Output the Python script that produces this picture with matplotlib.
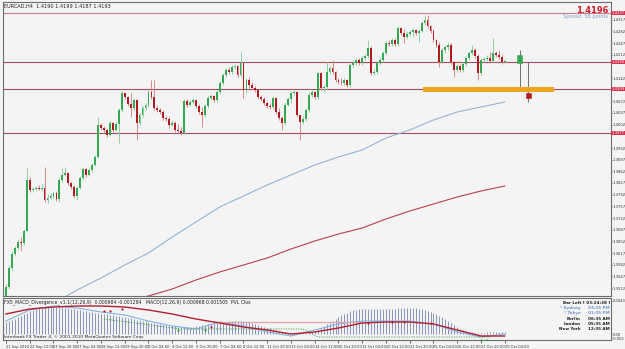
import numpy as np
import matplotlib.pyplot as plt

# EURCAD H4 candles, 21 Sep 2010 .. 29 Oct 2010 04:00
first_open = 1.3488
closes = [1.3515, 1.3572, 1.3614, 1.3632, 1.3650, 1.3647, 1.3683, 1.3836, 1.3806, 1.3809,
          1.3812, 1.3809, 1.3812, 1.3776, 1.3782, 1.3788, 1.3797, 1.3779, 1.3836, 1.3851,
          1.3857, 1.3827, 1.3815, 1.3788, 1.3812, 1.3842, 1.3869, 1.3851, 1.3866, 1.3881,
          1.3905, 1.4001, 1.3992, 1.3986, 1.3971, 1.4007, 1.3986, 1.4004, 1.4046, 1.4097,
          1.4085, 1.4064, 1.4052, 1.4076, 1.4007, 1.4031, 1.4052, 1.4061, 1.4100, 1.4085,
          1.4052, 1.4046, 1.4040, 1.4022, 1.4019, 1.4001, 1.4007, 1.3986, 1.3983, 1.3977,
          1.4073, 1.4061, 1.4070, 1.4076, 1.4058, 1.4040, 1.4031, 1.4058, 1.4082, 1.4088,
          1.4076, 1.4100, 1.4127, 1.4151, 1.4166, 1.4160, 1.4175, 1.4178, 1.4151, 1.4187,
          1.4106, 1.4136, 1.4121, 1.4112, 1.4106, 1.4085, 1.4079, 1.4067, 1.4058, 1.4055,
          1.4082, 1.4040, 1.4022, 1.4007, 1.4061, 1.4079, 1.4097, 1.4100, 1.4031, 1.4010,
          1.4019, 1.4046, 1.4091, 1.4100, 1.4085, 1.4157, 1.4112, 1.4115, 1.4160, 1.4172,
          1.4160, 1.4136, 1.4130, 1.4127, 1.4136, 1.4121, 1.4181, 1.4187, 1.4196, 1.4187,
          1.4202, 1.4208, 1.4232, 1.4157, 1.4160, 1.4187, 1.4196, 1.4217, 1.4247, 1.4244,
          1.4256, 1.4244, 1.4292, 1.4277, 1.4265, 1.4274, 1.4280, 1.4286, 1.4277, 1.4283,
          1.4307, 1.4316, 1.4298, 1.4283, 1.4256, 1.4241, 1.4190, 1.4226, 1.4235, 1.4241,
          1.4190, 1.4166, 1.4178, 1.4166, 1.4184, 1.4202, 1.4217, 1.4226, 1.4208, 1.4157,
          1.4196, 1.4199, 1.4202, 1.4193, 1.4217, 1.4211, 1.4205, 1.4190, 1.4193]
highs = [1.3524, 1.3581, 1.3623, 1.3638, 1.3659, 1.3665, 1.3689, 1.3872, 1.3845, 1.3815,
         1.3818, 1.3821, 1.3824, 1.3875, 1.3794, 1.3797, 1.3803, 1.3803, 1.3842, 1.3872,
         1.3875, 1.3860, 1.3830, 1.3821, 1.3818, 1.3848, 1.3875, 1.3872, 1.3872, 1.3887,
         1.3911, 1.4025, 1.4007, 1.3998, 1.3992, 1.4013, 1.4010, 1.4010, 1.4052, 1.4103,
         1.4100, 1.4088, 1.4097, 1.4082, 1.4079, 1.4037, 1.4058, 1.4067, 1.4106, 1.4136,
         1.4136, 1.4058, 1.4052, 1.4046, 1.4028, 1.4025, 1.4016, 1.4013, 1.4004, 1.3995,
         1.4079, 1.4079, 1.4076, 1.4082, 1.4079, 1.4064, 1.4055, 1.4064, 1.4088, 1.4094,
         1.4091, 1.4106, 1.4133, 1.4157, 1.4172, 1.4175, 1.4181, 1.4184, 1.4181, 1.4220,
         1.4190, 1.4142, 1.4145, 1.4130, 1.4118, 1.4109, 1.4091, 1.4085, 1.4073, 1.4067,
         1.4088, 1.4085, 1.4052, 1.4028, 1.4067, 1.4085, 1.4103, 1.4106, 1.4103, 1.4031,
         1.4028, 1.4052, 1.4100, 1.4106, 1.4103, 1.4160, 1.4160, 1.4121, 1.4190, 1.4178,
         1.4196, 1.4163, 1.4142, 1.4142, 1.4142, 1.4139, 1.4187, 1.4193, 1.4202, 1.4202,
         1.4208, 1.4214, 1.4256, 1.4238, 1.4169, 1.4193, 1.4202, 1.4223, 1.4253, 1.4256,
         1.4262, 1.4262, 1.4298, 1.4295, 1.4289, 1.4283, 1.4286, 1.4292, 1.4289, 1.4289,
         1.4313, 1.4331, 1.4331, 1.4301, 1.4289, 1.4259, 1.4250, 1.4232, 1.4241, 1.4247,
         1.4247, 1.4193, 1.4184, 1.4184, 1.4190, 1.4208, 1.4223, 1.4241, 1.4232, 1.4214,
         1.4202, 1.4205, 1.4211, 1.4220, 1.4262, 1.4223, 1.4226, 1.4211, 1.4199]
lows = [1.3482, 1.3509, 1.3566, 1.3608, 1.3626, 1.3623, 1.3641, 1.3680, 1.3800, 1.3800,
        1.3803, 1.3806, 1.3803, 1.3770, 1.3767, 1.3779, 1.3782, 1.3773, 1.3770, 1.3830,
        1.3848, 1.3821, 1.3809, 1.3782, 1.3776, 1.3809, 1.3836, 1.3845, 1.3848, 1.3860,
        1.3878, 1.3902, 1.3986, 1.3980, 1.3965, 1.3968, 1.3980, 1.3983, 1.3947, 1.4040,
        1.4079, 1.4058, 1.4025, 1.4046, 1.3956, 1.4001, 1.4025, 1.4046, 1.4055, 1.4079,
        1.4046, 1.4040, 1.4034, 1.4016, 1.4013, 1.3992, 1.3998, 1.3980, 1.3974, 1.3971,
        1.3974, 1.4055, 1.4058, 1.4064, 1.4052, 1.4034, 1.3995, 1.4025, 1.4052, 1.4076,
        1.4070, 1.4070, 1.4094, 1.4121, 1.4145, 1.4154, 1.4154, 1.4169, 1.4145, 1.4145,
        1.4082, 1.4097, 1.4112, 1.4106, 1.4100, 1.4079, 1.4073, 1.4061, 1.4052, 1.4049,
        1.4049, 1.4034, 1.4016, 1.3986, 1.4001, 1.4058, 1.4067, 1.4091, 1.4025, 1.3956,
        1.4004, 1.4013, 1.4040, 1.4085, 1.4079, 1.4079, 1.4106, 1.4100, 1.4106, 1.4154,
        1.4154, 1.4130, 1.4124, 1.4121, 1.4121, 1.4115, 1.4115, 1.4175, 1.4181, 1.4181,
        1.4181, 1.4196, 1.4202, 1.4151, 1.4151, 1.4154, 1.4181, 1.4190, 1.4211, 1.4238,
        1.4238, 1.4238, 1.4238, 1.4271, 1.4247, 1.4259, 1.4268, 1.4265, 1.4271, 1.4250,
        1.4280, 1.4301, 1.4292, 1.4277, 1.4250, 1.4235, 1.4175, 1.4184, 1.4217, 1.4226,
        1.4184, 1.4145, 1.4160, 1.4160, 1.4160, 1.4178, 1.4196, 1.4211, 1.4202, 1.4136,
        1.4151, 1.4190, 1.4193, 1.4187, 1.4190, 1.4205, 1.4199, 1.4184, 1.4187]

date_labels = ['21 Sep 2010', '22 Sep 12:00', '23 Sep 20:00', '27 Sep 04:00', '28 Sep 12:00',
               '29 Sep 20:00', '1 Oct 04:00', '4 Oct 12:00', '5 Oct 20:00', '7 Oct 04:00',
               '8 Oct 12:00', '11 Oct 20:00', '13 Oct 04:00', '14 Oct 12:00', '15 Oct 20:00',
               '19 Oct 04:00', '20 Oct 12:00', '21 Oct 20:00', '25 Oct 04:00', '26 Oct 12:00',
               '27 Oct 20:00', '29 Oct 04:00']

# moving averages (read every 8 bars)
ma_bars = [16, 24, 32, 40, 48, 56, 64, 72, 80, 88, 96, 104, 112, 120, 128, 136, 144, 152, 160, 168]
ma_fast = [1.3467, 1.3506, 1.3542, 1.3581, 1.3617, 1.3665, 1.3710, 1.3755, 1.3788, 1.3821,
           1.3851, 1.3881, 1.3905, 1.3926, 1.3962, 1.3986, 1.4016, 1.4040, 1.4055, 1.4070]
ma_slow_bars = [40, 48, 56, 64, 72, 80, 88, 96, 104, 112, 120, 128, 136, 144, 152, 160, 168]
ma_slow = [1.3473, 1.3488, 1.3509, 1.3536, 1.3560, 1.3581, 1.3602, 1.3629, 1.3653, 1.3674,
           1.3692, 1.3719, 1.3743, 1.3764, 1.3785, 1.3803, 1.3818]

# horizontal levels drawn on chart
levels = [1.4337, 1.4190, 1.4109, 1.3977]
zone_bars = [140.5, 184.5]
zone_prices = [1.4100, 1.4115]
# projected bars right of the last candle: bar, open, high, low, close
proj = [(173, 1.4187, 1.4226, 1.4106, 1.4211),
        (176, 1.4097, 1.4190, 1.4070, 1.4082)]

# MACD divergence indicator (x 1e-4)
hist = [12, 13, 14, 15, 17, 18, 20, 21, 23, 24, 25, 26, 27, 27, 27, 27, 27, 27, 27, 27,
        26, 26, 25, 25, 24, 24, 23, 23, 22, 22, 21, 21, 20, 20, 20, 19, 19, 18, 18, 17,
        17, 16, 16, 15, 14, 14, 13, 13, 12, 11, 11, 10, 10, 9, 9, 8, 8, 8, 7, 7,
        7, 7, 7, 7, 8, 8, 9, 9, 10, 10, 11, 11, 12, 12, 12, 13, 13, 13, 13, 13,
        13, 12, 12, 11, 10, 9, 8, 7, 6, 6, 5, 4, 3, 2, 2, 1, 1, 1, 1, 1,
        1, 1, 2, 2, 3, 4, 6, 8, 10, 11, 13, 15, 17, 19, 20, 21, 23, 24, 24, 25,
        25, 25, 25, 25, 25, 25, 25, 25, 25, 25, 25, 25, 26, 26, 26, 26, 26, 26, 26, 25,
        25, 24, 23, 22, 21, 20, 18, 17, 15, 13, 11, 9, 7, 5, 4, 3, 2, 2, 1, 1,
        1, 1, 2, 2, 2, 2, 2, 2, 2]
line_bars = [0, 8, 16, 24, 32, 40, 48, 56, 64, 72, 80, 88, 96, 104, 112, 120, 128, 136, 144, 152, 160, 168]
macd_line = [13, 24, 28, 26, 22, 19, 13, 8, 5, 12, 8, 2, -2, 4, 10, 13, 13, 13, 10, 2, -3, 0]
signal_line = [20, 25, 27, 28, 28, 27, 24, 20, 15, 11, 7, 4, 0, 2, 6, 11, 12, 12, 10, 4, -2, -2]
flat_bars = [70, 120]
flat_val = [12, 12]
green_bars = [33, 59, 100, 105, 163]
green_line = [15, 5, 5, -3, -3]
red_dot_bars = [33, 35, 39, 69, 122, 130, 134, 143]
red_dot_vals = [23, 23, 25, 7, 11, 12, 12, 11]
green_dot_bars = [58, 67, 160, 162]
green_dot_vals = [4, 4, -6, -6]

BG = '#f4f4f4'
UP = '#34a853'
DN = '#b3191e'
W, H = 625, 349

fig = plt.figure(figsize=(W / 100, H / 100), dpi=100, facecolor=BG)
ax = fig.add_axes([3 / W, 1 - 296 / H, 608 / W, 294 / H], facecolor=BG)
axi = fig.add_axes([3 / W, 1 - 340 / H, 608 / W, 42 / H], facecolor=BG)

n = len(closes)
x = np.arange(n)
opens = [first_open] + closes[:-1]
xmin, xmax = -1, 203.8

# candles
for i in range(n):
    o, c = opens[i], closes[i]
    col = UP if c >= o else DN
    wcol = '#8fcf9f' if c >= o else '#d68a8a'
    ax.vlines(i, lows[i], highs[i], color=wcol, lw=0.7, zorder=3)
    ax.bar(i, max(abs(c - o), 0.00006), bottom=min(o, c), width=0.62, color=col,
           linewidth=0, zorder=4)

ax.plot(ma_bars, ma_fast, color='#93b5d6', lw=0.8, zorder=2)
ax.plot(ma_slow_bars, ma_slow, color='#b8404f', lw=0.8, zorder=2)

for k, lv in enumerate(levels):
    ax.axhline(lv, color='#c47f8e' if k == 0 else '#a84d5e', lw=0.8, zorder=1)
ax.fill_between(zone_bars, zone_prices[0], zone_prices[1], color='#f0a423', lw=0, zorder=5)

for b, o, hi, lo, c in proj:
    col = UP if c >= o else DN
    ax.vlines(b, lo, hi, color='#707070', lw=0.7, zorder=3)
    ax.bar(b, abs(c - o), bottom=min(o, c), width=1.9, color=col, edgecolor=col,
           linewidth=0.4, zorder=4)

ax.set_xlim(xmin, xmax)
ax.set_ylim(1.3488, 1.4370)
ax.set_xticks([])
ax.yaxis.tick_right()
# price scale every 35 points, hidden where a level label sits
ticks = [1.3512 + 0.0035 * k for k in range(25)]
ticks = [t for t in ticks if min(abs(t - lv) for lv in levels) > 0.0018]
ax.set_yticks(ticks)
ax.set_yticklabels(['%.4f' % t for t in ticks])
ax.tick_params(axis='y', length=1.0, width=0.5, pad=0.4, labelsize=2.7, colors='#333333')
for s in ax.spines.values():
    s.set_color('#6e6e6e')
    s.set_linewidth(0.8)

for lv in levels:
    ax.text(1.001, lv, '%.4f' % lv, transform=ax.get_yaxis_transform(), fontsize=2.7,
            color='#ffffff', va='center', ha='left', zorder=10, clip_on=False,
            bbox=dict(boxstyle='square,pad=0.12', fc='#d8304f', ec='none'))

ax.text(0.002, 0.995, 'EURCAD,H4  %.4f %.4f %.4f %.4f' % (opens[-1], highs[-1], lows[-1], closes[-1]),
        transform=ax.transAxes, fontsize=3.6, va='top', ha='left', color='#202020')
ax.text(0.9955, 0.988, '1.4196', transform=ax.transAxes, fontsize=6.0, fontweight='bold',
        color='#d01c2a', va='top', ha='right')
ax.text(0.9955, 0.958, 'Spread: 58 points', transform=ax.transAxes, fontsize=3.7,
        color='#7f9fcf', va='top', ha='right')

# indicator panel
axi.vlines(x, 0, [h / 10000 for h in hist], color='#7585b0', lw=0.6, zorder=2)
axi.plot(line_bars, [v / 10000 for v in macd_line], color='#86b3e3', lw=0.8, zorder=3)
axi.plot(line_bars, [v / 10000 for v in signal_line], color='#b0202d', lw=1.0, zorder=4)
axi.plot(flat_bars, [v / 10000 for v in flat_val], color='#e3a3a8', lw=0.9, zorder=3)
axi.plot(green_bars, [v / 10000 for v in green_line], color='#3a9a4a', lw=0.6, ls=(0, (1.5, 1.5)), zorder=3)
axi.scatter(red_dot_bars, [v / 10000 for v in red_dot_vals], s=2.5, color='#c01020', zorder=5, lw=0)
axi.scatter(green_dot_bars, [v / 10000 for v in green_dot_vals], s=2.5, color='#20a030', zorder=5, lw=0)
axi.set_xlim(xmin, xmax)
axi.set_ylim(-0.0006, 0.0036)
axi.yaxis.tick_right()
axi.set_yticks([0.0033, 0.0, -0.0004])
axi.set_yticklabels(['0.0043', '0.00', '-0.002'])
axi.tick_params(axis='y', length=1.0, width=0.5, pad=0.4, labelsize=2.6, colors='#333333')
axi.set_xticks([8 * k for k in range(len(date_labels))])
axi.set_xticklabels(date_labels, ha='left')
axi.tick_params(axis='x', length=2, width=0.5, pad=1.5, labelsize=2.6, colors='#333333')
for s in axi.spines.values():
    s.set_color('#6e6e6e')
    s.set_linewidth(0.8)

axi.text(0.002, 0.98, 'FX5_MACD_Divergence_v1.1(12,26,9)  0.000984 -0.001284   MACD(12,26,9) 0.000968 0.001505  PVL Clos',
         transform=axi.transAxes, fontsize=3.3, va='top', ha='left', color='#202020')
axi.text(0.002, 0.02, 'Interbank FX Trader 4, \u00a9 2001-2010 MetaQuotes Software Corp.',
         transform=axi.transAxes, fontsize=3.2, va='bottom', ha='left', color='#202020')

clock_names = ['Bar Left [ 03:24:38 ]', '* Sydney', '* Tokyo', 'Berlin', 'London', 'New York']
clock_times = ['', '03:35 PM', '01:35 PM', '06:35 AM', '05:35 AM', '12:35 AM']
clock_cols = ['#202020', '#6f97c9', '#6f97c9', '#202020', '#202020', '#202020']
for k in range(len(clock_names)):
    yy = 0.93 - k * 0.125
    if clock_times[k]:
        axi.text(0.95, yy, clock_names[k], transform=axi.transAxes, fontsize=3.0,
                 fontweight='bold', color=clock_cols[k], va='top', ha='right')
        axi.text(0.998, yy, clock_times[k], transform=axi.transAxes, fontsize=3.0,
                 fontweight='bold', color=clock_cols[k], va='top', ha='right')
    else:
        axi.text(0.998, yy, clock_names[k], transform=axi.transAxes, fontsize=3.0,
                 fontweight='bold', color=clock_cols[k], va='top', ha='right')

fig.savefig('out.png', dpi=100, facecolor=BG)
